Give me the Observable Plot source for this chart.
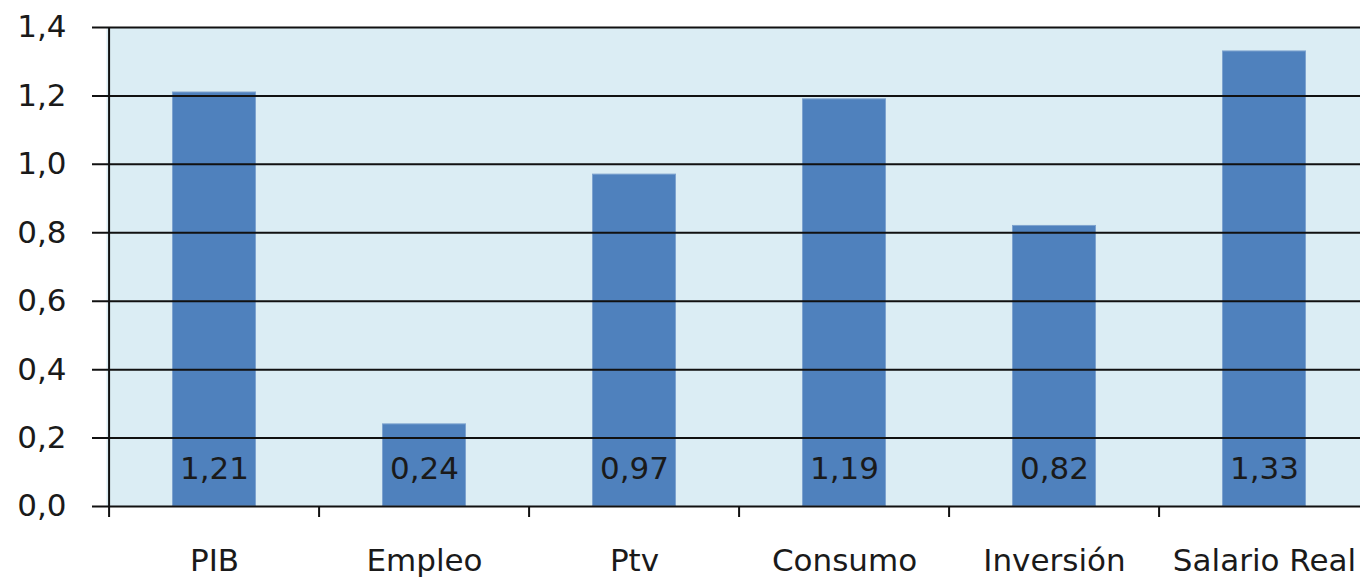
<!DOCTYPE html>
<html>
<head>
<meta charset="utf-8">
<script src="https://cdn.jsdelivr.net/npm/d3@7"></script>
<script src="https://cdn.jsdelivr.net/npm/@observablehq/plot@0.6"></script>
<style>
  html, body { margin: 0; padding: 0; background: #fff; overflow: hidden; }
  #chart svg { overflow: hidden; display: block; }
</style>
</head>
<body>
<div id="chart"></div>
<script>
const categories = ["PIB", "Empleo", "Ptv", "Consumo", "Inversión", "Salario Real"];
const values = [1.21, 0.24, 0.97, 1.19, 0.82, 1.33];
const valueLabels = ["1,21", "0,24", "0,97", "1,19", "0,82", "1,33"];
const yTicks = [0, 0.2, 0.4, 0.6, 0.8, 1.0, 1.2, 1.4];

const data = categories.map((c, i) => ({cat: c, value: values[i], label: valueLabels[i]}));

const W = 1360, H = 577;
const left = 106, rightEdge = 1371;
const step = (rightEdge - left) / categories.length;
const fmt = d => d.toFixed(1).replace(".", ",");

const chart = Plot.plot({
  width: W,
  height: H,
  marginLeft: left,
  marginRight: 0,
  marginTop: 27,
  marginBottom: 71,
  style: {fontFamily: "DejaVu Sans", fontSize: "31px", color: "#1a1a1a", background: "#fff"},
  x: {domain: categories, range: [left, rightEdge], padding: 0, label: null},
  y: {domain: [0, 1.4], label: null},
  marks: [
    Plot.frame({fill: "#DBEDF4", stroke: null}),
    Plot.barY(data, {x: "cat", y: "value", fill: "#4F81BD", stroke: "#7EA3CF", strokeWidth: 1, insetLeft: 63.5, insetRight: 63.5}),
    Plot.ruleY(yTicks, {stroke: "#111", strokeWidth: 2, insetLeft: -14}),
    Plot.ruleX(categories, {x: d => d, dx: -step / 2, y1: (d, i) => i === 0 ? 1.4 : 0, y2: 0, insetBottom: -11, stroke: "#111", strokeWidth: 2}),
    Plot.text(data, {x: "cat", y: () => 0, text: "label", dy: -37, fill: "#1a1a1a", fontSize: 31}),
    Plot.axisY({ticks: yTicks, tickFormat: fmt, tickSize: 0, tickPadding: 40, fontSize: 31}),
    Plot.axisX({tickSize: 0, tickPadding: 42, fontSize: 31})
  ]
});
document.getElementById("chart").appendChild(chart);
</script>
</body>
</html>
